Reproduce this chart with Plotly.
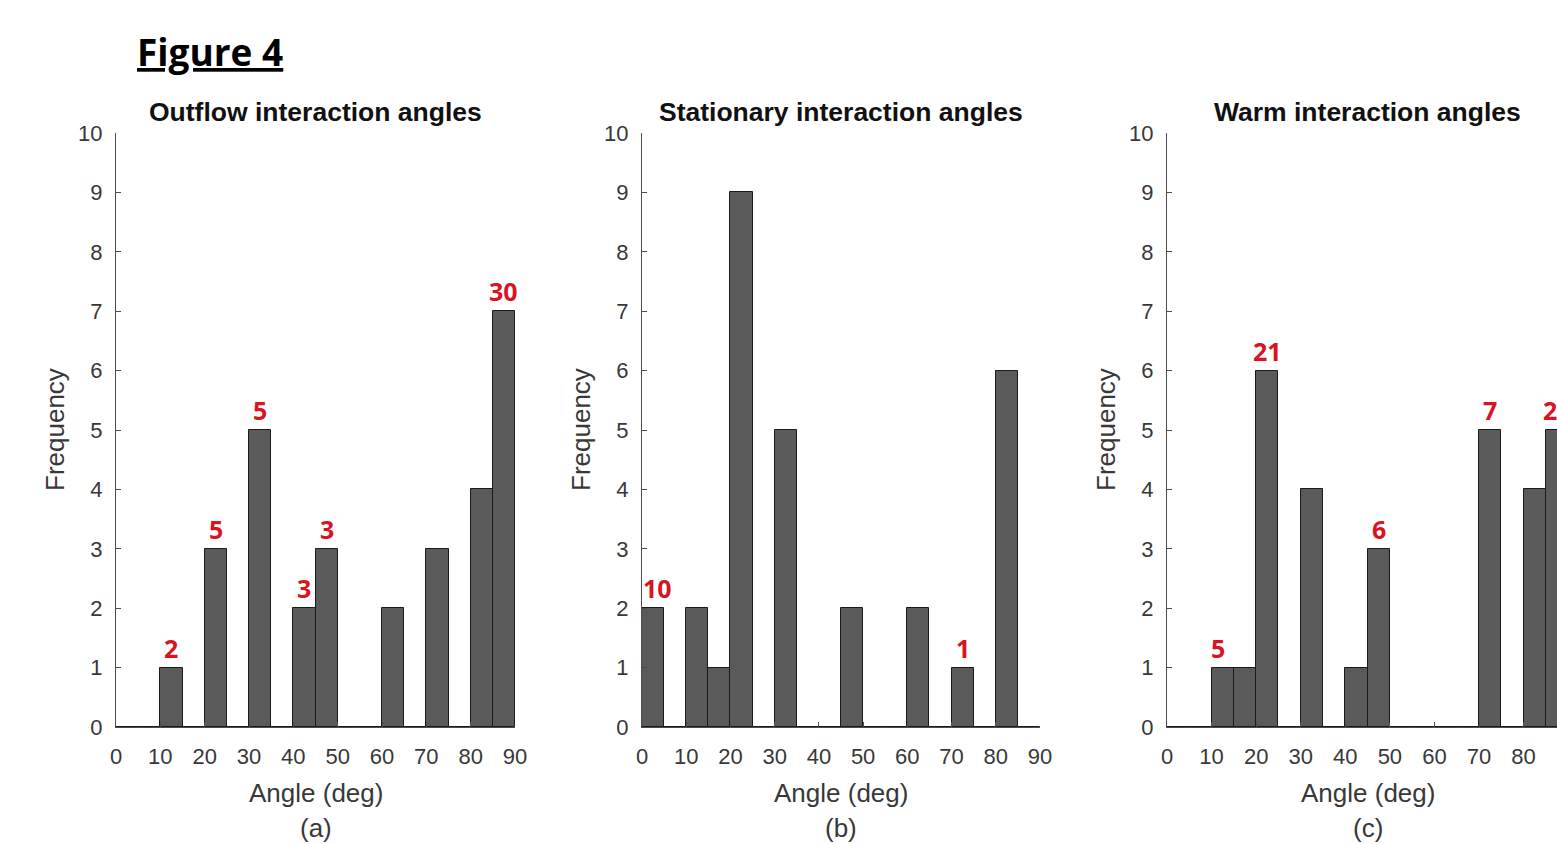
import plotly.graph_objects as go

# Histogram bins: 5-degree bins from 0 to 90
bin_edges = list(range(0, 95, 5))
bin_centers = [(a + b) / 2 for a, b in zip(bin_edges[:-1], bin_edges[1:])]

# Frequencies per bin for each front type
outflow_counts = [0, 0, 1, 0, 3, 0, 5, 0, 2, 3, 0, 0, 2, 0, 3, 0, 4, 7]
stationary_counts = [2, 0, 2, 1, 9, 0, 5, 0, 0, 2, 0, 0, 2, 0, 1, 0, 6, 0]
warm_counts = [0, 0, 1, 1, 6, 0, 4, 0, 1, 3, 0, 0, 0, 0, 5, 0, 4, 5]

# Red annotations (bin index -> text)
outflow_notes = {2: "2", 4: "5", 6: "5", 8: "3", 9: "3", 17: "30"}
stationary_notes = {0: "10", 14: "1"}
warm_notes = {2: "5", 4: "21", 9: "6", 14: "7", 17: "20"}

titles = ["Outflow interaction angles", "Stationary interaction angles", "Warm interaction angles"]
panel_tags = ["(a)", "(b)", "(c)"]
x_ticks = list(range(0, 100, 10))
y_ticks = list(range(0, 11))

W, H = 1557, 844
# plot-area pixel extents (left, right) and visible x range of each panel
panels_px = [(116, 515), (642, 1040), (1167, 1557)]
x_ranges = [[0, 90], [0, 90], [0, 87.5]]
y_top_px, y_bot_px = 133, 727
# small horizontal nudges for a few red labels: (panel, bin) -> px
note_nudge = {(1, 0): 4, (2, 2): -5}

BAR_FILL = "#5a5a5a"
BAR_EDGE = "#1a1a1a"
AXIS_COL = "#4d4d4d"
TEXT_COL = "#383838"
RED = "#d9131f"
SANS = "Liberation Sans, Arial, sans-serif"

fig = go.Figure()
all_counts = [outflow_counts, stationary_counts, warm_counts]
all_notes = [outflow_notes, stationary_notes, warm_notes]


def paper_y(px):
    return 1 - px / H


annotations = []
for i, (counts, notes) in enumerate(zip(all_counts, all_notes)):
    xa = "x" if i == 0 else f"x{i+1}"
    ya = "y" if i == 0 else f"y{i+1}"
    fig.add_trace(go.Bar(
        x=bin_centers, y=counts, width=5,
        marker=dict(color=BAR_FILL, line=dict(color=BAR_EDGE, width=1)),
        xaxis=xa, yaxis=ya, showlegend=False, hoverinfo="x+y",
    ))
    for idx, txt in notes.items():
        annotations.append(dict(
            x=bin_centers[idx], y=counts[idx], xref=xa, yref=ya,
            text=f"<b>{txt}</b>", showarrow=False,
            xanchor="center", yanchor="bottom",
            yshift=1, xshift=note_nudge.get((i, idx), 0),
            font=dict(family="Open Sans, sans-serif", size=25, color=RED),
        ))
    # panel title, axis labels, panel tag
    common = dict(xref=xa, yref="paper", showarrow=False,
                  xanchor="center", yanchor="middle")
    annotations.append(dict(x=45, y=paper_y(112), text=f"<b>{titles[i]}</b>",
                            font=dict(family=SANS, size=26.5, color="#111111"),
                            **common))
    annotations.append(dict(x=45, y=paper_y(793), text="Angle (deg)",
                            font=dict(family=SANS, size=26, color=TEXT_COL),
                            **common))
    annotations.append(dict(x=45, y=paper_y(828), text=panel_tags[i],
                            font=dict(family=SANS, size=26, color=TEXT_COL),
                            **common))
    annotations.append(dict(x=(panels_px[i][0] - 61) / W, y=paper_y(430),
                            xref="paper", yref="paper", text="Frequency",
                            textangle=-90, showarrow=False,
                            xanchor="center", yanchor="middle",
                            font=dict(family=SANS, size=26, color=TEXT_COL)))

annotations.append(dict(x=135 / W, y=paper_y(52), xref="paper", yref="paper",
                        xanchor="left", yanchor="middle",
                        text="<b><u>Figure 4</u></b>", showarrow=False,
                        font=dict(family="Open Sans, sans-serif", size=37, color="#000000")))

layout = dict(
    width=W, height=H, autosize=False,
    margin=dict(l=0, r=0, t=0, b=0, pad=0, autoexpand=False),
    paper_bgcolor="white", plot_bgcolor="white", bargap=0,
    annotations=annotations,
)
for i in range(3):
    suffix = "" if i == 0 else str(i + 1)
    x0, x1 = panels_px[i]
    layout[f"xaxis{suffix}"] = dict(
        domain=[x0 / W, x1 / W], range=x_ranges[i], tickvals=x_ticks,
        ticks="inside", ticklen=5, tickcolor=AXIS_COL, showline=True,
        linecolor=AXIS_COL, linewidth=1, showgrid=False, zeroline=False,
        tickfont=dict(family=SANS, size=22, color=TEXT_COL),
        anchor="y" if i == 0 else f"y{i+1}", fixedrange=True,
        ticklabelstandoff=10, automargin=False,
    )
    layout[f"yaxis{suffix}"] = dict(
        domain=[paper_y(y_bot_px), paper_y(y_top_px)], range=[0, 10],
        tickvals=y_ticks, ticks="inside", ticklen=5, tickcolor=AXIS_COL,
        showline=True, linecolor=AXIS_COL, linewidth=1, showgrid=False,
        zeroline=False, tickfont=dict(family=SANS, size=22, color=TEXT_COL),
        anchor="x" if i == 0 else f"x{i+1}", fixedrange=True,
        ticklabelstandoff=8, automargin=False,
    )

fig.update_layout(**layout)
fig.write_html("out.html", config={"responsive": False, "displayModeBar": False})
